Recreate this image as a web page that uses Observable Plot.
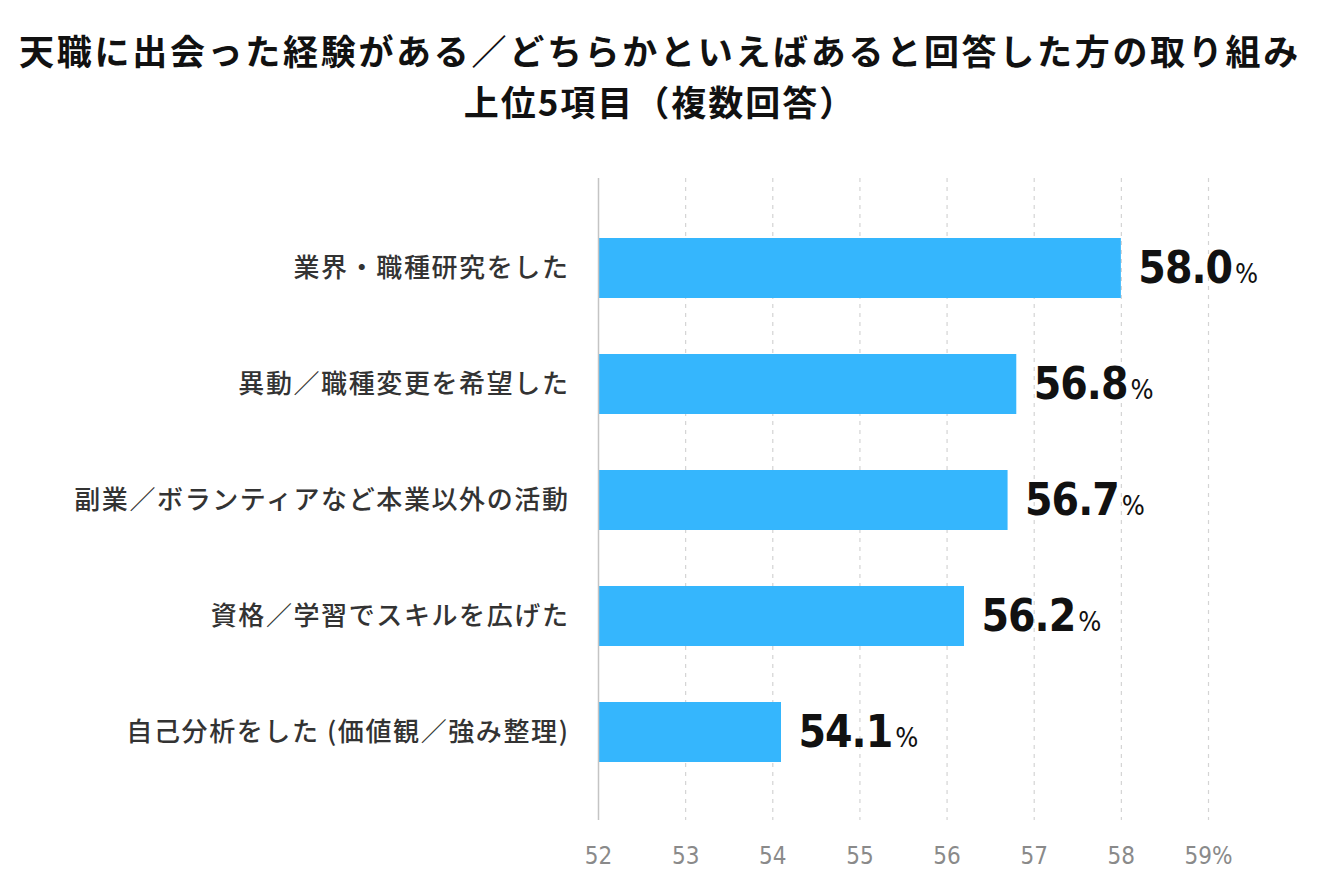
<!DOCTYPE html>
<html>
<head>
<meta charset="utf-8">
<script src="https://cdn.jsdelivr.net/npm/d3@7"></script>
<script src="https://cdn.jsdelivr.net/npm/@observablehq/plot@0.6"></script>
<style>
  html, body { margin: 0; padding: 0; background: #fff; }
  #title {
    box-sizing: border-box; height: 150px; padding-top: 24px;
    text-align: center; font-family: "Noto Sans CJK JP", sans-serif;
    font-weight: 700; font-size: 35px; line-height: 51px; letter-spacing: 2.7px; color: #111;
  }
  #title .l2 { letter-spacing: 2px; }
</style>
</head>
<body>
<div id="title">天職に出会った経験がある／どちらかといえばあると回答した方の取り組み<br><span class="l2">上位5項目（複数回答）</span></div>
<div id="chart"></div>
<script>
const categories = [
  "業界・職種研究をした",
  "異動／職種変更を希望した",
  "副業／ボランティアなど本業以外の活動",
  "資格／学習でスキルを広げた",
  "自己分析をした (価値観／強み整理)"
];
const values = [58.0, 56.8, 56.7, 56.2, 54.1];
const tickValues = [52, 53, 54, 55, 56, 57, 58, 59];
const tickLabels = ["52", "53", "54", "55", "56", "57", "58", "59%"];

const data = categories.map((c, i) => ({label: c, value: values[i]}));
const numFont = "DejaVu Sans Condensed, DejaVu Sans, sans-serif";
const jpFont = "Noto Sans CJK JP, sans-serif";

const chart = Plot.plot({
  width: 1320,
  height: 744,
  marginLeft: 598,
  marginRight: 112,
  marginTop: 28,
  marginBottom: 74,
  x: {domain: [52, 59]},
  y: {domain: categories, range: [60, 640], paddingInner: 0.483, paddingOuter: 0.2415},
  marks: [
    Plot.ruleX(tickValues.slice(1), {stroke: "#d4d4d4", strokeWidth: 1.2, strokeDasharray: "4,5"}),
    Plot.barX(data, {x1: 52, x2: "value", y: "label", fill: "#35b6fd"}),
    Plot.ruleX([52], {stroke: "#c4c4c4", strokeWidth: 1.5}),
    Plot.axisX({ticks: tickValues, tickFormat: d => tickLabels[tickValues.indexOf(d)], tickSize: 0, tickPadding: 26,
      fontSize: 24, fontFamily: numFont, fill: "#8a8a8a", label: null}),
    Plot.axisY({tickSize: 0, tickPadding: 29, fontSize: 26, fontFamily: jpFont, fill: "#333", fontWeight: 500, label: null}),
    Plot.text(data, {x: "value", y: "label", text: d => d.value.toFixed(1) + "%", dx: 17, textAnchor: "start",
      fontSize: 44, fontWeight: "bold", fontFamily: numFont, fill: "#111"})
  ]
});

// split value labels into number + smaller percent sign
d3.select(chart).selectAll('g[aria-label="text"] text').each(function() {
  const t = d3.select(this);
  const s = t.text();
  const num = s.replace("%", "");
  t.text(null);
  t.append("tspan").text(num).style("letter-spacing", "-1px");
  t.append("tspan").attr("font-size", 27).attr("font-weight", "normal").attr("dx", 3).text("%");
});
d3.select(chart).selectAll('g[aria-label="y-axis tick label"] text').style("letter-spacing", "1.6px");

document.getElementById("chart").appendChild(chart);
</script>
</body>
</html>
